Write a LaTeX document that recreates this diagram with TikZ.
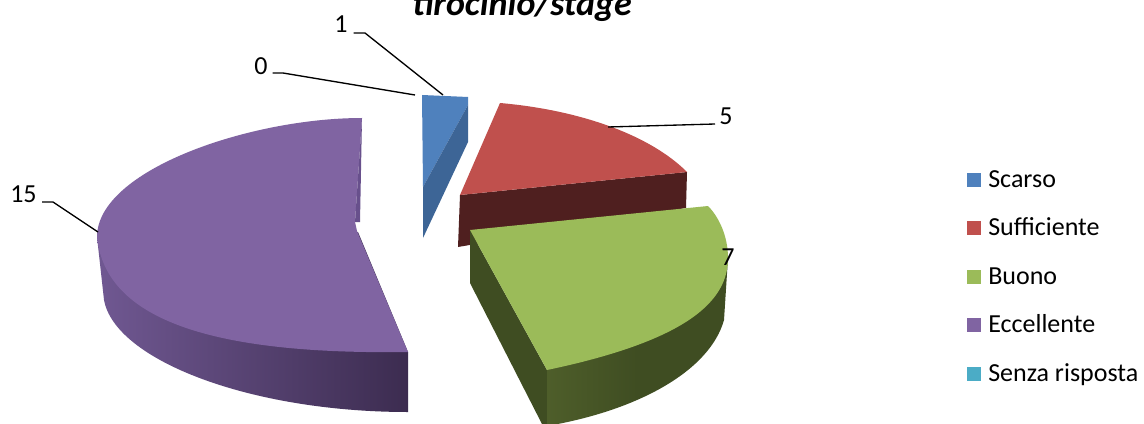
\documentclass[tikz,border=0pt]{standalone}
\usepackage{fontspec}
\setmainfont{Carlito}
\definecolor{cblue}{RGB}{79,129,189}
\definecolor{cbluedk}{RGB}{61,101,150}
\definecolor{cred}{RGB}{192,80,77}
\definecolor{creddk}{RGB}{79,31,31}
\definecolor{cgreen}{RGB}{155,187,89}
\definecolor{cgreendk}{RGB}{63,77,34}
\definecolor{cgreenmd}{RGB}{78,94,42}
\definecolor{cpurple}{RGB}{128,100,162}
\definecolor{cpurplel}{RGB}{112,88,146}
\definecolor{cpurpled}{RGB}{60,44,80}
\definecolor{cpurplesl}{RGB}{104,80,140}
\definecolor{caqua}{RGB}{75,172,198}
\begin{document}
\begin{tikzpicture}[x=0.75pt,y=-0.75pt,line join=round,
  lbl/.style={font=\fontsize{19.5}{23}\selectfont, inner sep=0pt, text=black},
  ttl/.style={font=\fontsize{27}{32}\selectfont\bfseries\itshape, inner sep=0pt, text=black},
  leader/.style={draw=black, line width=1pt},
  legsq/.style={minimum size=10.5pt, inner sep=0pt, draw=none}]
\useasboundingbox (0,0) rectangle (1144,424);
\clip (0,0) rectangle (1144,424);
\fill[white] (0,0) rectangle (1144,424);

% title (partly cut off)
\node[ttl, anchor=base] (title) at (522,16) {tirocinio/stage};

% Eccellente (purple)
\shade[left color=cpurplel, right color=cpurpled]
  (97,237) -- (104,300) .. controls (115,360) and (250,412) .. (408,412)
  -- (408,352) -- (358,232) -- cycle;
\fill[cpurple] (362,118) .. controls (250,118) and (97,170) .. (97,237)
  .. controls (105,315) and (200,355) .. (408,352) -- (357,231) -- (355,222) -- cycle;
\fill[cpurplesl] (362,118) -- (360,222) -- (355,222) -- cycle;

% Sufficiente (red)
\fill[creddk] (460,195) -- (687,172) -- (686,208) -- (458,247) -- cycle;
\fill[cred] (460,195) -- (500,103) .. controls (580,110) and (650,135) .. (687,172) -- cycle;

% Scarso (blue)
\fill[cblue] (422,95) -- (468,97) -- (468,105) -- (423,187) -- cycle;
\fill[cbluedk] (468,105) -- (468,142) -- (423,238) -- (423,187) -- cycle;

% Buono (green)
\fill[cgreendk] (470,230) -- (470,283) -- (543,426) -- (548,426) -- (547,370) -- cycle;
\shade[left color=cgreenmd, right color=cgreendk, middle color=cgreendk]
  (547,370) -- (547,426) .. controls (640,410) and (710,370) .. (724,320)
  -- (728,258) -- cycle;
\fill[cgreen] (470,230) -- (708,206) .. controls (718,216) and (728,235) .. (728,258)
  .. controls (728,300) and (690,340) .. (547,370) -- cycle;

% data labels
\node[lbl, anchor=base west] (l15) at (10,202) {15};
\node[lbl, anchor=base west] (l0) at (254,75) {0};
\node[lbl, anchor=base west] (l1) at (334,33) {1};
\node[lbl, anchor=base west] (l5) at (719,125) {5};
\node[lbl, anchor=base west] (l7) at (721,265) {7};

\coordinate (k15) at (53,202); \coordinate (p15) at (98,232);
\coordinate (k0) at (283,73);  \coordinate (p0) at (415,95);
\coordinate (k1) at (365,33);  \coordinate (p1) at (443,95);
\coordinate (p5) at (608,127);

\draw[leader] ([xshift=4pt]l15.base east) -- (k15) -- (p15);
\draw[leader] ([xshift=3.75pt,yshift=1.5pt]l0.base east) -- (k0) -- (p0);
\draw[leader] ([xshift=4.5pt]l1.base east) -- (k1) -- (p1);
\draw[leader] ([xshift=-3pt,yshift=0.75pt]l5.base west) -- (p5);

% legend
\node[legsq, fill=cblue]   (q1) at (973.5,180) {};
\node[legsq, fill=cred]    (q2) at (973.5,228) {};
\node[legsq, fill=cgreen]  (q3) at (973.5,276.5) {};
\node[legsq, fill=cpurple] (q4) at (973.5,324.5) {};
\node[legsq, fill=caqua]   (q5) at (973.5,373.5) {};
\node[lbl, anchor=base west] (t1) at (988,187) {Scarso};
\node[lbl, anchor=base west] (t2) at (988,235) {Sufficiente};
\node[lbl, anchor=base west] (t3) at (988,284) {Buono};
\node[lbl, anchor=base west] (t4) at (988,332) {Eccellente};
\node[lbl, anchor=base west] (t5) at (988,381) {Senza risposta};
\end{tikzpicture}
\end{document}
